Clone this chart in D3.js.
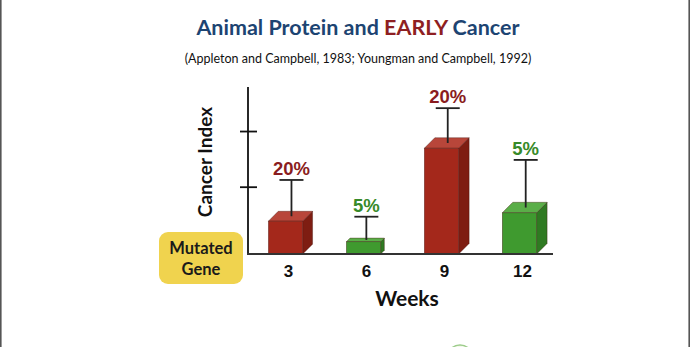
<!DOCTYPE html>
<html>
<head>
<meta charset="utf-8">
<script src="https://cdn.jsdelivr.net/npm/d3@7"></script>
<style>
  html, body { margin: 0; padding: 0; background: #fff; }
  svg { display: block; }
</style>
</head>
<body>
<svg id="chart"></svg>
<script>
// weeks on the x axis, bar heights and whisker tops in cancer-index units
const weeks = ["3", "6", "9", "12"];
const cancerIndex = [5.9, 2.2, 19.0, 7.4];
const whiskerTop = [13.3, 6.7, 26.2, 16.9];
const percentLabels = ["20%", "5%", "20%", "5%"];
const groups = ["high", "low", "high", "low"];
const yTicks = [12, 22];

const width = 690, height = 347;
const svg = d3.select("#chart").attr("width", width).attr("height", height);

const palette = {
  high: { front: "#a4281b", top: "#b8463a", side: "#7e1d12", text: "#8a1c20" },
  low:  { front: "#3f9a2f", top: "#5aae48", side: "#2f7a22", text: "#378a29" }
};
const humanist = "Lato, 'Open Sans', sans-serif";

// page frame (left and right rules)
svg.append("line").attr("x1", 0.8).attr("x2", 0.8).attr("y1", 0).attr("y2", height)
  .attr("stroke", "#555").attr("stroke-width", 1.6);
svg.append("line").attr("x1", 689.2).attr("x2", 689.2).attr("y1", 0).attr("y2", height)
  .attr("stroke", "#555").attr("stroke-width", 1.6);

// title
const title = svg.append("text")
  .attr("x", 358).attr("y", 35)
  .attr("text-anchor", "middle")
  .style("font-family", humanist)
  .style("font-size", "21.5px")
  .style("font-weight", "bold")
  .attr("fill", "#1d4472");
title.append("tspan").text("Animal Protein and ");
title.append("tspan").attr("fill", "#8e1f22").text("EARLY");
title.append("tspan").text(" Cancer");

svg.append("text")
  .attr("x", 358).attr("y", 63)
  .attr("text-anchor", "middle")
  .style("font-family", humanist)
  .style("font-size", "12.5px")
  .attr("fill", "#111")
  .text("(Appleton and Campbell, 1983; Youngman and Campbell, 1992)");

// scales
const x = d3.scaleBand().domain(weeks).range([245, 560]).paddingInner(0.56).paddingOuter(0.3);
const y = d3.scaleLinear().domain([0, 30]).range([254, 87]);
const baseY = y(0);

const g = svg.append("g");

// bars as simple 3-D boxes
weeks.forEach((w, i) => {
  const c = palette[groups[i]];
  const x0 = x(w), x1 = x(w) + x.bandwidth();
  const yt = y(cancerIndex[i]);
  const d = Math.min(10.5, (baseY - yt) * 0.3);
  // right side
  g.append("path")
    .attr("d", `M${x1},${baseY} L${x1 + d},${baseY - d} L${x1 + d},${yt - d} L${x1},${yt} Z`)
    .attr("fill", c.side).attr("stroke", "#3a0d08").attr("stroke-width", 0.6).attr("stroke-opacity", 0.6);
  // top
  g.append("path")
    .attr("d", `M${x0},${yt} L${x0 + d},${yt - d} L${x1 + d},${yt - d} L${x1},${yt} Z`)
    .attr("fill", c.top).attr("stroke", "#3a0d08").attr("stroke-width", 0.6).attr("stroke-opacity", 0.6);
  // front
  g.append("rect")
    .attr("x", x0).attr("y", yt).attr("width", x.bandwidth()).attr("height", baseY - yt)
    .attr("fill", c.front).attr("stroke", "#3a0d08").attr("stroke-width", 0.6).attr("stroke-opacity", 0.6);

  // whisker from the centre of the top face
  const cx = x0 + x.bandwidth() / 2 + d / 2 + 1;
  const wy = y(whiskerTop[i]);
  g.append("line").attr("x1", cx).attr("x2", cx).attr("y1", yt - d / 2).attr("y2", wy)
    .attr("stroke", "#222").attr("stroke-width", 1.8);
  g.append("line").attr("x1", cx - 12).attr("x2", cx + 12).attr("y1", wy).attr("y2", wy)
    .attr("stroke", "#222").attr("stroke-width", 1.8);

  g.append("text")
    .attr("x", cx).attr("y", wy - 5)
    .attr("text-anchor", "middle")
    .style("font-family", "'Liberation Sans', Arial, sans-serif")
    .style("font-size", "18.5px")
    .style("font-weight", "bold")
    .attr("fill", c.text)
    .text(percentLabels[i]);
});

// axes
svg.append("line").attr("x1", 248).attr("x2", 248).attr("y1", 87).attr("y2", baseY)
  .attr("stroke", "#111").attr("stroke-width", 1.8);
svg.append("line").attr("x1", 247).attr("x2", 553).attr("y1", baseY).attr("y2", baseY)
  .attr("stroke", "#333").attr("stroke-width", 1.8);
svg.selectAll(".ytick").data(yTicks).join("line")
  .attr("class", "ytick")
  .attr("x1", 240).attr("x2", 257)
  .attr("y1", d => y(d)).attr("y2", d => y(d))
  .attr("stroke", "#111").attr("stroke-width", 1.8);

svg.selectAll(".xlabel").data(weeks).join("text")
  .attr("class", "xlabel")
  .attr("x", d => x(d) + x.bandwidth() / 2 + 3)
  .attr("y", 277)
  .attr("text-anchor", "middle")
  .style("font-family", "'Liberation Sans', Arial, sans-serif")
  .style("font-size", "17px")
  .style("font-weight", "bold")
  .attr("fill", "#111")
  .text(d => d);

svg.append("text")
  .attr("x", 407).attr("y", 306)
  .attr("text-anchor", "middle")
  .style("font-family", humanist)
  .style("font-size", "21px")
  .style("font-weight", "bold")
  .attr("fill", "#111")
  .text("Weeks");

svg.append("text")
  .attr("transform", "translate(212,162) rotate(-90)")
  .attr("text-anchor", "middle")
  .style("font-family", humanist)
  .style("font-size", "19px")
  .style("font-weight", "bold")
  .attr("fill", "#111")
  .text("Cancer Index");

// "Mutated Gene" badge
svg.append("rect")
  .attr("x", 159).attr("y", 232).attr("width", 84).attr("height", 52).attr("rx", 9)
  .attr("fill", "#f0d34e");
svg.selectAll(".badge").data(["Mutated", "Gene"]).join("text")
  .attr("class", "badge")
  .attr("x", 201).attr("y", (d, i) => 254 + i * 21)
  .attr("text-anchor", "middle")
  .style("font-family", humanist)
  .style("font-size", "16.5px")
  .style("font-weight", "bold")
  .attr("fill", "#1a1a1a")
  .text(d => d);

// small circle peeking in at the bottom edge
svg.append("circle")
  .attr("cx", 460).attr("cy", 358).attr("r", 13)
  .attr("fill", "#f4f8ec").attr("stroke", "#9ccc8a").attr("stroke-width", 1.5);
</script>
</body>
</html>
